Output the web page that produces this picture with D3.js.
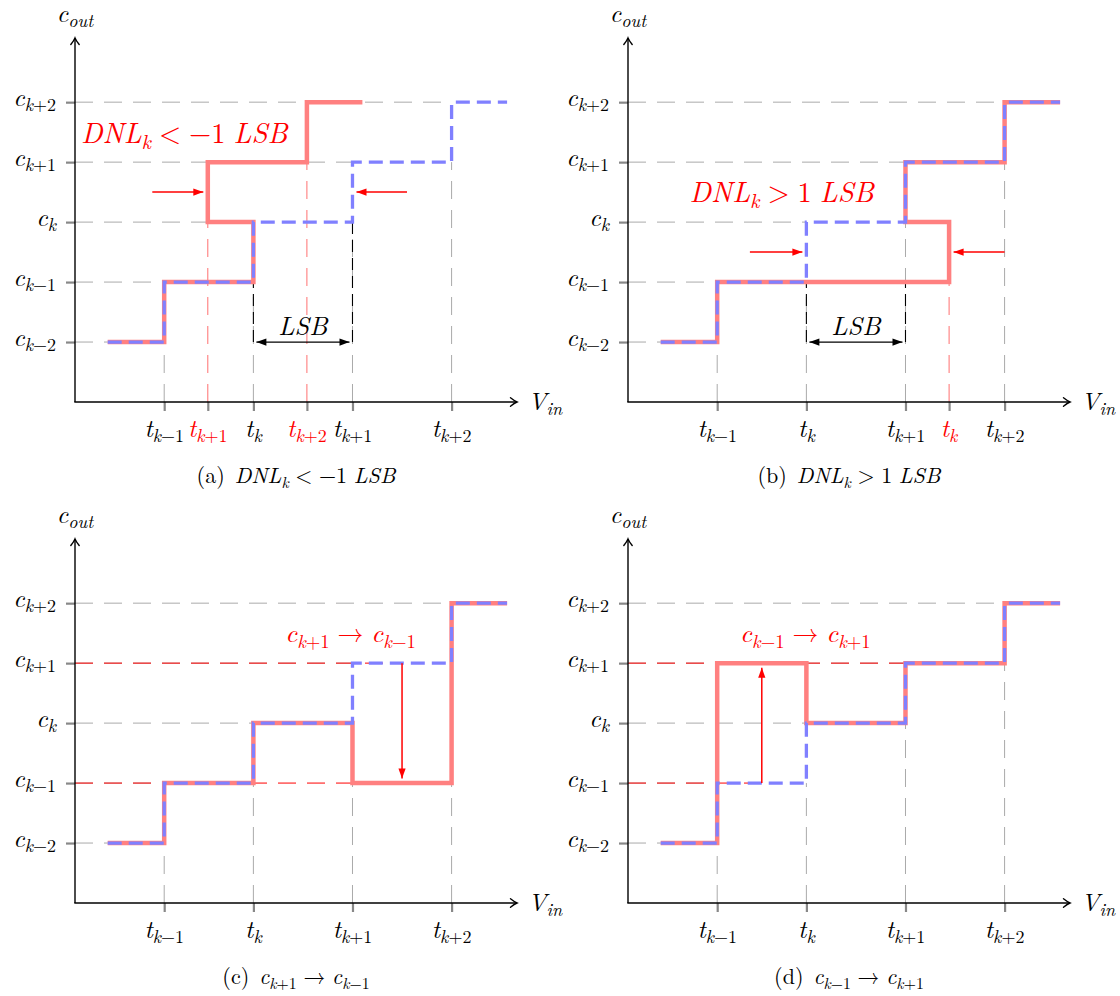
<!DOCTYPE html>
<html><head><meta charset="utf-8">
<script src="https://cdn.jsdelivr.net/npm/d3@7"></script>
<style>body{margin:0;background:#fff}svg{display:block}</style>
</head><body>
<svg id="chart" width="1120" height="996"></svg>
<script>
// ---------------- data ----------------
const codeLevels = [1, 2, 3, 4, 5];
const codeLabels = ["c_{k−2}", "c_{k−1}", "c_{k}", "c_{k+1}", "c_{k+2}"];
const idealThresholds = [0.9, 1.8, 2.8, 3.8];
const thresholdLabels = ["t_{k−1}", "t_{k}", "t_{k+1}", "t_{k+2}"];
const rampStart = 0.33;
const rampEnd = 4.36;
const idealSteps = [[0.33,1],[0.9,1],[0.9,2],[1.8,2],[1.8,3],[2.8,3],[2.8,4],[3.8,4],[3.8,5],[4.36,5]];
const actualA = [[0.33,1],[0.9,1],[0.9,2],[1.8,2],[1.8,3],[1.34,3],[1.34,4],[2.34,4],[2.34,5],[2.9,5]];
const actualB = [[0.33,1],[0.9,1],[0.9,2],[3.24,2],[3.24,3],[2.8,3],[2.8,4],[3.8,4],[3.8,5],[4.36,5]];
const actualC = [[0.33,1],[0.9,1],[0.9,2],[1.8,2],[1.8,3],[2.8,3],[2.8,2],[3.8,2],[3.8,5],[4.36,5]];
const actualD = [[0.33,1],[0.9,1],[0.9,4],[1.8,4],[1.8,3],[2.8,3],[2.8,4],[3.8,4],[3.8,5],[4.36,5]];
const shiftedA = [1.34, 2.34];
const shiftedLabelsA = ["t_{k+1}", "t_{k+2}"];
const shiftedB = [3.24];
const shiftedLabelsB = ["t_{k}"];
const captions = ["DNL_{k} < −1 LSB", "DNL_{k} > 1 LSB", "c_{k+1} → c_{k−1}", "c_{k−1} → c_{k+1}"];
const captionTags = ["(a)", "(b)", "(c)", "(d)"];

// ---------------- helpers ----------------
const svg = d3.select("#chart");
svg.append("rect").attr("width",1120).attr("height",996).attr("fill","#fff");
const FONT = '"Latin Modern Roman", "Liberation Serif", serif';

const defs = svg.append("defs");
function marker(id, color, kind){
  const m = defs.append("marker").attr("id", id).attr("markerUnits","userSpaceOnUse")
    .attr("viewBox","-12 -7 14 14").attr("refX",0).attr("refY",0)
    .attr("markerWidth",14).attr("markerHeight",14).attr("orient","auto-start-reverse");
  if (kind === "open") {
    m.append("path").attr("d","M-6.5,-4.2 Q-2.5,-1 0,0 Q-2.5,1 -6.5,4.2")
      .attr("fill","none").attr("stroke",color).attr("stroke-width",1.4).attr("stroke-linecap","round");
  } else {
    m.append("path").attr("d","M-10,-3.6 L0,0 L-10,3.6 Z").attr("fill",color);
  }
}
marker("axHead","#000","open");
marker("blkHead","#000","fill");
marker("redHead","#ff0000","fill");

function tex(parent, str, o){
  const size = o.size;
  const t = parent.append("text").attr("x",o.x).attr("y",o.y)
    .style("font-family",FONT).attr("font-size",size)
    .attr("fill",o.fill||"#000").attr("text-anchor",o.anchor||"start");
  const runs = [];
  let pendingDx = 0;
  const sp = o.space || 0.3;
  if (o.prefix) { runs.push({text:o.prefix, italic:false, sub:false, dx:0, lock:true}); pendingDx = size*0.45; }
  function push(ch, sub){
    const it = /[A-Za-z]/.test(ch);
    const last = runs[runs.length-1];
    if (last && !last.lock && last.italic===it && last.sub===sub && !pendingDx) last.text += ch;
    else { runs.push({text:ch, italic:it, sub, dx:pendingDx}); pendingDx = 0; }
  }
  let i = 0;
  while (i < str.length){
    const c = str[i];
    if (c === "_"){
      i++; let s;
      if (str[i] === "{"){ const j = str.indexOf("}", i); s = str.slice(i+1, j); i = j+1; }
      else { s = str[i]; i++; }
      for (const ch of s) push(ch, true);
      continue;
    }
    if (c === " "){ pendingDx += size*sp; i++; continue; }
    push(c, false); i++;
  }
  let cur = 0;
  runs.forEach(r => {
    const target = r.sub ? size*0.21 : 0;
    const ts = t.append("tspan").text(r.text)
      .attr("font-style", r.italic ? "italic" : "normal")
      .attr("font-size", r.sub ? size*0.72 : size)
      .attr("dy", target - cur);
    if (r.dx) ts.attr("dx", r.dx);
    cur = target;
  });
  return t;
}

// ---------------- panels ----------------
const panels = [
  {ox:75,  oy:402, actual:actualA, shifted:shiftedA, shiftedLabels:shiftedLabelsA, kind:"a"},
  {ox:628, oy:402, actual:actualB, shifted:shiftedB, shiftedLabels:shiftedLabelsB, kind:"b"},
  {ox:75,  oy:903, actual:actualC, shifted:[], shiftedLabels:[], kind:"c"},
  {ox:628, oy:903, actual:actualD, shifted:[], shiftedLabels:[], kind:"d"}
];

panels.forEach((p, pi) => {
  const g = svg.append("g");
  const x = d3.scaleLinear().domain([0, 4.46]).range([p.ox, p.ox + 442]);
  const y = d3.scaleLinear().domain([0, 6.07]).range([p.oy, p.oy - 364]);
  const line = d3.line().x(d => x(d[0])).y(d => y(d[1]));

  // gray grid: horizontals from axis to ideal step start
  const levelStart = [rampStart, ...idealThresholds];
  codeLevels.forEach((lv, i) => {
    g.append("line").attr("x1",x(0)).attr("x2",x(levelStart[i])).attr("y1",y(lv)).attr("y2",y(lv))
      .attr("stroke","#aaaaaa").attr("stroke-width",1).attr("stroke-dasharray","18,11");
  });
  // gray grid verticals
  idealThresholds.forEach((t, j) => {
    g.append("line").attr("x1",x(t)).attr("x2",x(t)).attr("y1",y(0)).attr("y2",y(codeLevels[j]))
      .attr("stroke","#aaaaaa").attr("stroke-width",1).attr("stroke-dasharray","18,11");
  });

  // red thin dashed verticals at shifted thresholds
  const shiftTop = {a:[3,4], b:[2]}[p.kind] || [];
  p.shifted.forEach((t, j) => {
    g.append("line").attr("x1",x(t)).attr("x2",x(t)).attr("y1",y(0)).attr("y2",y(shiftTop[j]))
      .attr("stroke","#ff7070").attr("stroke-width",1).attr("stroke-dasharray","18,11");
  });

  // LSB black dashed + arrow
  if (p.kind === "a" || p.kind === "b"){
    const tops = p.kind === "a" ? [2, 3] : [2, 2];
    [1.8, 2.8].forEach((t, j) => {
      g.append("line").attr("x1",x(t)).attr("x2",x(t)).attr("y1",y(1)).attr("y2",y(tops[j]))
        .attr("stroke","#000").attr("stroke-width",1.1).attr("stroke-dasharray","12,6");
    });
    g.append("line").attr("x1",x(1.8)+3).attr("x2",x(2.8)-3).attr("y1",y(1)).attr("y2",y(1))
      .attr("stroke","#000").attr("stroke-width",1.3)
      .attr("marker-start","url(#blkHead)").attr("marker-end","url(#blkHead)");
    tex(g, "LSB", {x:x(2.3), y:y(1.12), size:26, anchor:"middle"});
  }

  // red dashed horizontals for (c),(d)
  if (p.kind === "c"){
    [[4,3.3],[2,3.3]].forEach(([lv,xe]) => {
      g.append("line").attr("x1",x(0)).attr("x2",x(xe)).attr("y1",y(lv)).attr("y2",y(lv))
        .attr("stroke","#ff0000").attr("stroke-width",1).attr("stroke-dasharray","18,11");
    });
  }
  if (p.kind === "d"){
    [[4,2.8],[2,1.35]].forEach(([lv,xe]) => {
      g.append("line").attr("x1",x(0)).attr("x2",x(xe)).attr("y1",y(lv)).attr("y2",y(lv))
        .attr("stroke","#ff0000").attr("stroke-width",1).attr("stroke-dasharray","18,11");
    });
  }

  // axes with ticks (d3 axes)
  const allX = idealThresholds.concat(p.shifted);
  const xAxis = d3.axisBottom(x).tickValues(allX).tickSize(9).tickFormat("");
  const yAxis = d3.axisLeft(y).tickValues(codeLevels).tickSize(9).tickFormat("");
  const gx = g.append("g").attr("transform",`translate(0,${p.oy})`).call(xAxis);
  const gy = g.append("g").attr("transform",`translate(${p.ox},0)`).call(yAxis);
  [gx, gy].forEach(a => {
    a.select(".domain").remove();
    a.selectAll(".tick line").attr("stroke","#888").attr("stroke-width",2.2);
  });
  g.append("line").attr("x1",x(0)-0.7).attr("x2",x(4.46)).attr("y1",y(0)).attr("y2",y(0))
    .attr("stroke","#000").attr("stroke-width",1.4).attr("marker-end","url(#axHead)");
  g.append("line").attr("x1",x(0)).attr("x2",x(0)).attr("y1",y(0)).attr("y2",y(6.07))
    .attr("stroke","#000").attr("stroke-width",1.4).attr("marker-end","url(#axHead)");

  // tick labels
  codeLevels.forEach((lv, i) => tex(g, codeLabels[i], {x:x(0)-19, y:y(lv)+4, size:25, anchor:"end"}));
  idealThresholds.forEach((t, j) => tex(g, thresholdLabels[j], {x:x(t), y:p.oy+35, size:25, anchor:"middle"}));
  p.shifted.forEach((t, j) => tex(g, p.shiftedLabels[j], {x:x(t), y:p.oy+35, size:25, anchor:"middle", fill:"#ff0000"}));

  // axis titles
  tex(g, "c_{out}", {x:x(0), y:p.oy-380, size:25, anchor:"middle"});
  tex(g, "V_{in}", {x:x(4.46)+11, y:p.oy+8, size:25});

  // staircases
  g.append("path").attr("d", line(p.actual)).attr("fill","none")
    .attr("stroke","#ff8080").attr("stroke-width",4.5).attr("stroke-linejoin","miter");
  g.append("path").attr("d", line(idealSteps)).attr("fill","none")
    .attr("stroke","#8080ff").attr("stroke-width",3.3).attr("stroke-dasharray","14,7")
    .attr("stroke-linejoin","miter");

  // red annotation arrows
  const redArrow = (x1,y1,x2,y2) => g.append("line").attr("x1",x1).attr("y1",y1).attr("x2",x2).attr("y2",y2)
    .attr("stroke","#ff0000").attr("stroke-width",1.5).attr("marker-end","url(#redHead)");
  if (p.kind === "a"){
    redArrow(x(0.78), y(3.5), x(1.34)-4.5, y(3.5));
    redArrow(x(3.35), y(3.5), x(2.8)+4, y(3.5));
    tex(g, captions[0], {x:x(0.06), y:y(4.32), size:28.5, fill:"#ff0000", space:0.28});
  }
  if (p.kind === "b"){
    redArrow(x(1.23), y(2.5), x(1.8)-4, y(2.5));
    redArrow(x(3.8), y(2.5), x(3.24)+4.5, y(2.5));
    tex(g, captions[1], {x:x(0.62), y:y(3.33), size:28.5, fill:"#ff0000", space:0.28});
  }
  if (p.kind === "c"){
    redArrow(x(3.3), y(4), x(3.3), y(2)-4.5);
    tex(g, captions[2], {x:x(2.78), y:y(4.35), size:26, anchor:"middle", fill:"#ff0000"});
  }
  if (p.kind === "d"){
    redArrow(x(1.35), y(2), x(1.35), y(4)+4.5);
    tex(g, captions[3], {x:x(1.79), y:y(4.35), size:26, anchor:"middle", fill:"#ff0000"});
  }

  // caption
  tex(g, captions[pi], {x:x(2.23), y:p.oy+81, size:22, anchor:"middle", prefix:captionTags[pi]});
});
</script>
</body></html>
